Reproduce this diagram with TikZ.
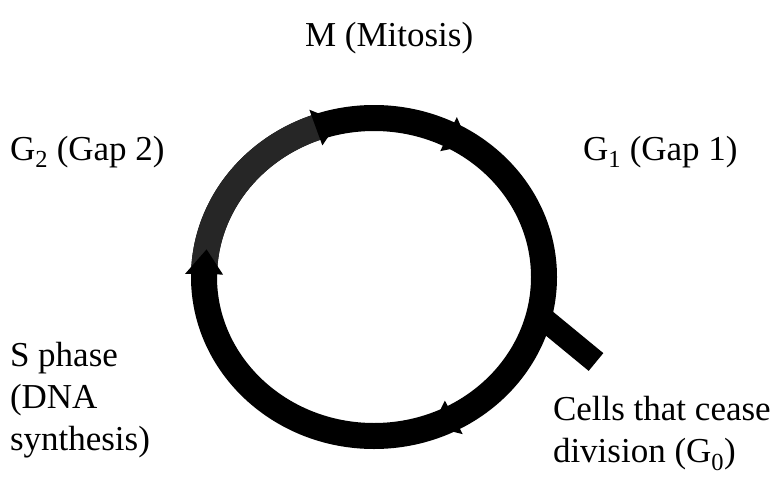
\documentclass[tikz,border=0pt]{standalone}
\usepackage{fontspec}
\setmainfont{Liberation Serif}
\usetikzlibrary{shapes.geometric}
\newcommand\cyclearrow[3]{%
  \fill ({374+(170+#3)*cos(#1)},{277+(159+#3)*sin(#1)})
     -- ({374+(170-#3)*cos(#1)},{277+(159-#3)*sin(#1)})
     -- ({374+170*cos(#2)},{277+159*sin(#2)}) -- cycle;}
\begin{document}
\begin{tikzpicture}[x=1pt,y=-1pt,
  lbl/.style={font=\fontsize{35}{42}\selectfont, inner sep=0pt, outer sep=0pt, align=left},
  band/.style={line width=26pt}]
\useasboundingbox (0,0) rectangle (774,485);
% cycle band
\node[ellipse, draw=black, band, minimum width=340pt, minimum height=318pt,
      inner sep=0pt, outer sep=0pt] (cyc) at (374,277) {};
% stippled G2 section
\draw[band, black!85, line cap=butt]
  plot[domain=-177:-109, samples=60] ({374+170*cos(\x)},{277+159*sin(\x)});
% arrowheads (clockwise)
\cyclearrow{-110}{-102}{19}
\cyclearrow{-64}{-56}{19}
\cyclearrow{-179}{-170}{19}
\cyclearrow{62}{70}{19}
% G0 exit branch
\coordinate (g0end) at (596,362);
\draw[line width=23pt, line cap=butt] (cyc.-13) -- (g0end);
% labels
\node[lbl, anchor=base west] (m)  at (305,46)  {M (Mitosis)};
\node[lbl, anchor=base west] (g2) at (10,160)  {G\textsubscript{2} (Gap 2)};
\node[lbl, anchor=base west] (g1) at (583,160) {G\textsubscript{1} (Gap 1)};
\node[lbl, anchor=north west] (s)  at (10,342)  {S phase\\(DNA\\synthesis)};
\node[lbl, anchor=north west] (g0) at (553,396) {Cells that cease\\division (G\textsubscript{0})};
\end{tikzpicture}
\end{document}
